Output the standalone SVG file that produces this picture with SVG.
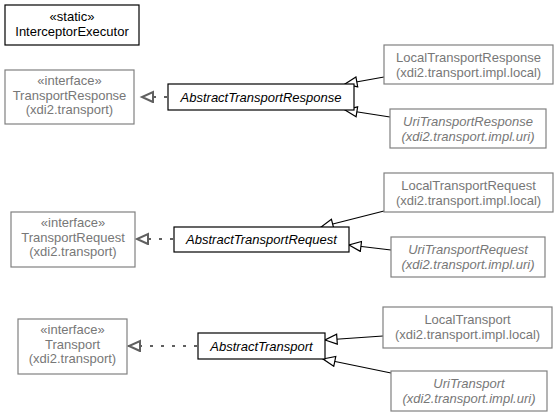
<svg xmlns="http://www.w3.org/2000/svg" width="557" height="417" viewBox="0 0 557 417">
<style>
text{font-family:"Liberation Sans",Arial,sans-serif;font-size:13px;text-anchor:middle}
.k rect{fill:#fff;stroke:#000;stroke-width:1.2}
.k text{fill:#000}
.g rect{fill:#fff;stroke:#808080;stroke-width:1.2}
.g text{fill:#777}
.i{font-style:italic}
.gen{fill:none;stroke:#000;stroke-width:1.2}
.real{fill:none;stroke:#606060;stroke-width:2.2;stroke-dasharray:3,8}
</style>
<defs>
<marker id="mg" markerUnits="userSpaceOnUse" markerWidth="15" markerHeight="13" refX="12" refY="5" orient="auto" viewBox="-1 -1 15 13">
<path d="M0,0 L12,5 L0,10 Z" fill="#fff" stroke="#000" stroke-width="1.2"/>
</marker>
<marker id="mr" markerUnits="userSpaceOnUse" markerWidth="15" markerHeight="13" refX="12" refY="5" orient="auto" viewBox="-1 -1 15 13">
<path d="M0,0 L11,5 L0,10 Z" fill="#fff" stroke="#606060" stroke-width="2"/>
</marker>
</defs>
<g id="edges">
<path class="real" d="M167,97 L141,97" marker-end="url(#mr)"/>
<path class="gen" d="M384,77 L345,84" marker-end="url(#mg)"/>
<path class="gen" d="M390,117 L345,110" marker-end="url(#mg)"/>
<path class="real" d="M173,239 L136,239" marker-end="url(#mr)"/>
<path class="gen" d="M384,211 L321,227" marker-end="url(#mg)"/>
<path class="gen" d="M391,250 L349,245" marker-end="url(#mg)"/>
<path class="real" d="M197,346 L128,346" marker-end="url(#mr)"/>
<path class="gen" d="M383,336 L325,340" marker-end="url(#mg)"/>
<path class="gen" d="M391,373 L323,359" marker-end="url(#mg)"/>
</g>
<g id="InterceptorExecutor" class="k">
<rect x="5" y="5" width="134" height="40"/>
<text x="72" y="21">«static»</text>
<text x="72" y="35.5">InterceptorExecutor</text>
</g>
<g id="TransportResponse" class="g">
<rect x="5" y="70" width="129" height="54"/>
<text x="69.5" y="85">«interface»</text>
<text x="69.5" y="99.5">TransportResponse</text>
<text x="69.5" y="114">(xdi2.transport)</text>
</g>
<g id="AbstractTransportResponse" class="k">
<rect x="168" y="84" width="186" height="26"/>
<text class="i" x="261" y="101.5">AbstractTransportResponse</text>
</g>
<g id="LocalTransportResponse" class="g">
<rect x="384" y="45" width="169" height="39"/>
<text x="468.5" y="62">LocalTransportResponse</text>
<text x="468.5" y="76.5">(xdi2.transport.impl.local)</text>
</g>
<g id="UriTransportResponse" class="g">
<rect x="390" y="109" width="156" height="39"/>
<text class="i" x="468" y="126">UriTransportResponse</text>
<text class="i" x="468" y="140.5">(xdi2.transport.impl.uri)</text>
</g>
<g id="TransportRequest" class="g">
<rect x="11" y="212" width="124" height="55"/>
<text x="73" y="227">«interface»</text>
<text x="73" y="241.5">TransportRequest</text>
<text x="73" y="256">(xdi2.transport)</text>
</g>
<g id="AbstractTransportRequest" class="k">
<rect x="174" y="227" width="175" height="25"/>
<text class="i" x="261.5" y="244">AbstractTransportRequest</text>
</g>
<g id="LocalTransportRequest" class="g">
<rect x="384" y="173" width="169" height="39"/>
<text x="468.5" y="190">LocalTransportRequest</text>
<text x="468.5" y="204.5">(xdi2.transport.impl.local)</text>
</g>
<g id="UriTransportRequest" class="g">
<rect x="391" y="237" width="154" height="40"/>
<text class="i" x="468" y="254">UriTransportRequest</text>
<text class="i" x="468" y="268.5">(xdi2.transport.impl.uri)</text>
</g>
<g id="Transport" class="g">
<rect x="18" y="319" width="109" height="55"/>
<text x="72.5" y="334">«interface»</text>
<text x="72.5" y="348.5">Transport</text>
<text x="72.5" y="363">(xdi2.transport)</text>
</g>
<g id="AbstractTransport" class="k">
<rect x="198" y="333" width="127" height="26"/>
<text class="i" x="261.5" y="350.5">AbstractTransport</text>
</g>
<g id="LocalTransport" class="g">
<rect x="383" y="307" width="169" height="41"/>
<text x="467.5" y="324">LocalTransport</text>
<text x="467.5" y="338.5">(xdi2.transport.impl.local)</text>
</g>
<g id="UriTransport" class="g">
<rect x="391" y="371" width="156" height="40"/>
<text class="i" x="469" y="388">UriTransport</text>
<text class="i" x="469" y="402.5">(xdi2.transport.impl.uri)</text>
</g>
</svg>
